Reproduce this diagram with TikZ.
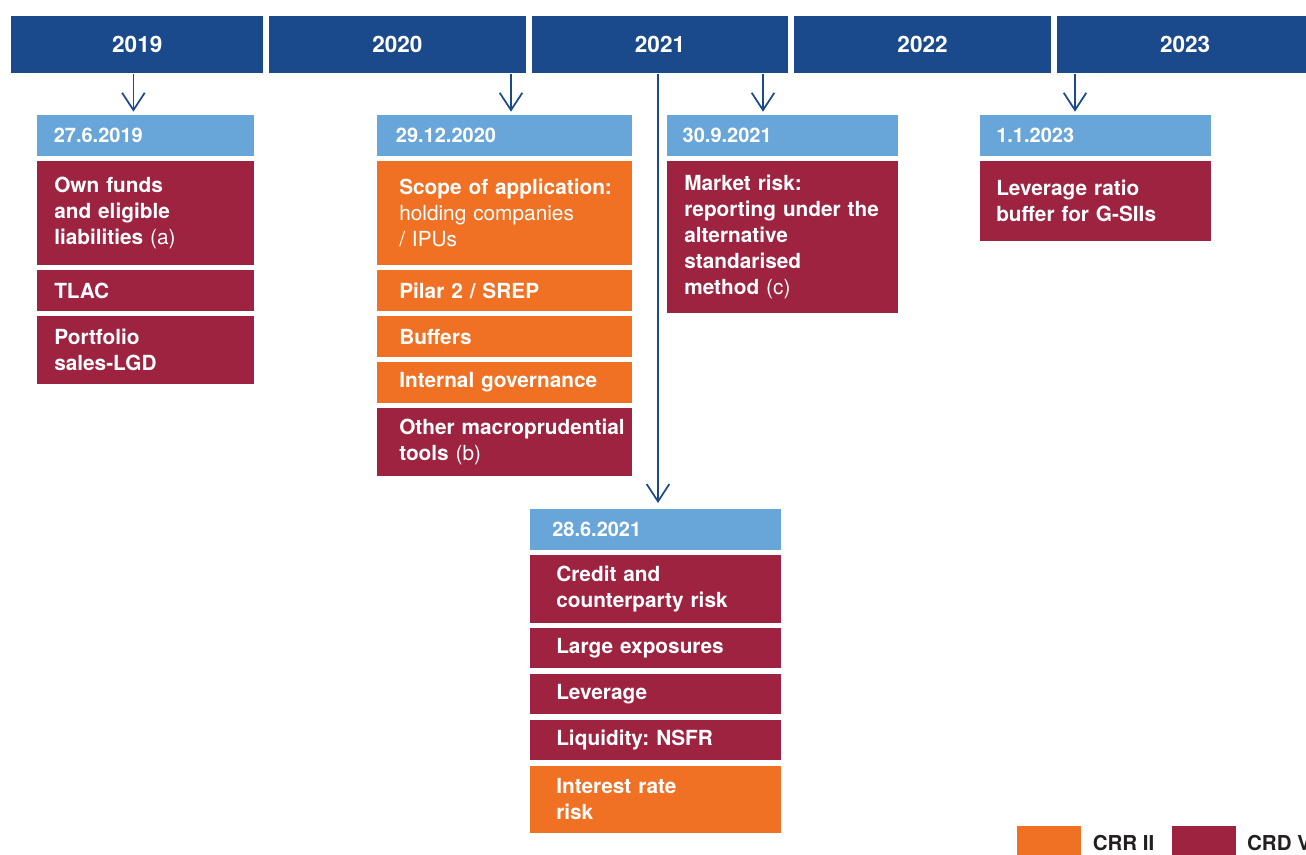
\documentclass[tikz,border=0pt]{standalone}
\usepackage{fontspec}
\setmainfont{TeX Gyre Heros}
\usetikzlibrary{positioning, arrows.meta}

\definecolor{barblue}{HTML}{1B4A8C}
\definecolor{dateblue}{HTML}{68A6D9}
\definecolor{crd}{HTML}{9E2340}
\definecolor{crr}{HTML}{F07124}
\definecolor{legtext}{HTML}{231F20}

\begin{document}
\frenchspacing
\begin{tikzpicture}[
  x=0.75pt, y=-0.75pt,
  year/.style={rectangle, fill=barblue, text=white, inner sep=0pt, minimum height=42.75pt, minimum width=192.5pt, font=\fontsize{16.9}{20}\selectfont\bfseries},
  col/.style 2 args={minimum width=#1, text width=#1-2*#2, inner xsep=#2},
  datebox/.style={rectangle, fill=dateblue, text=white, inner ysep=0pt, minimum height=30.4pt, align=left, font=\fontsize{15}{18}\selectfont\bfseries, anchor=north west},
  item/.style={rectangle, text=white, inner ysep=0pt, minimum height=30.4pt, align=left, font=\fontsize{15.6}{19.4}\selectfont\bfseries},
  arr/.style={-{Straight Barb[length=13pt,width=17pt]}, line width=1.3pt, draw=barblue, shorten >=2.5pt},
  legbox/.style={rectangle, minimum width=48pt, minimum height=25.5pt, inner sep=0pt},
  legtxt/.style={text=legtext, inner sep=0pt, font=\fontsize{15.4}{18}\selectfont\bfseries}
]
\useasboundingbox (0,0) rectangle (1306,854);

% year bars
\node[year, anchor=north west, minimum width=189pt] (y2019) at (11,16) {2019};
\node[year, right=4pt of y2019] (y2020) {2020};
\node[year, right=4pt of y2020] (y2021) {2021};
\node[year, right=4pt of y2021] (y2022) {2022};
\node[year, right=4pt of y2022] (y2023) {2023};

% 27.6.2019
\node[datebox, col={162.75pt}{12.4pt}] (date19) at (37,115) {27.6.2019};
\node[item, col={162.75pt}{12.75pt}, fill=crd, minimum height=78pt, below=3.6pt of date19.south west, anchor=north west] (ownfunds) {Own funds\\and eligible\\liabilities {\mdseries(a)}};
\node[item, col={162.75pt}{12.75pt}, fill=crd, below=3.6pt of ownfunds.south west, anchor=north west] (tlac) {TLAC};
\node[item, col={162.75pt}{12.75pt}, fill=crd, minimum height=50.6pt, below=3.6pt of tlac.south west, anchor=north west] (portfolio) {Portfolio\\sales-LGD};

% 29.12.2020
\node[datebox, col={191.25pt}{14pt}] (date20) at (377,115) {29.12.2020};
\node[item, col={191.25pt}{16.5pt}, fill=crr, minimum height=78pt, below=3.6pt of date20.south west, anchor=north west] (scope) {\mbox{Scope of application:}\\\mdseries holding companies\\/ IPUs};
\node[item, col={191.25pt}{16.5pt}, fill=crr, below=3.6pt of scope.south west, anchor=north west] (pilar) {Pilar 2 / SREP};
\node[item, col={191.25pt}{16.5pt}, fill=crr, below=3.6pt of pilar.south west, anchor=north west] (buffers) {Buffers};
\node[item, col={191.25pt}{16.5pt}, fill=crr, below=3.6pt of buffers.south west, anchor=north west] (governance) {Internal governance};
\node[item, col={191.25pt}{16.5pt}, fill=crd, minimum height=50.6pt, below=3.6pt of governance.south west, anchor=north west] (macro) {\mbox{Other macroprudential}\\tools {\mdseries(b)}};

% 30.9.2021
\node[datebox, col={173.25pt}{11.6pt}] (date21a) at (667,115) {30.9.2021};
\node[item, col={173.25pt}{12.75pt}, fill=crd, minimum height=114.5pt, below=3.2pt of date21a.south west, anchor=north west] (market) {Market risk:\\reporting under the\\alternative\\standarised\\method {\mdseries(c)}};

% 1.1.2023
\node[datebox, col={173.25pt}{12pt}] (date23) at (980,115) {1.1.2023};
\node[item, col={173.25pt}{12pt}, fill=crd, minimum height=60pt, below=3.2pt of date23.south west, anchor=north west] (gsii) {Leverage ratio\\buffer for G-SIIs};

% 28.6.2021
\node[datebox, col={188.25pt}{16.5pt}] (date21b) at (530,509) {28.6.2021};
\node[item, col={188.25pt}{19.5pt}, fill=crd, minimum height=50.6pt, below=3.6pt of date21b.south west, anchor=north west] (credit) {Credit and\\counterparty risk};
\node[item, col={188.25pt}{19.5pt}, fill=crd, below=3.6pt of credit.south west, anchor=north west] (large) {Large exposures};
\node[item, col={188.25pt}{19.5pt}, fill=crd, below=3.6pt of large.south west, anchor=north west] (leverage) {Leverage};
\node[item, col={188.25pt}{19.5pt}, fill=crd, below=3.6pt of leverage.south west, anchor=north west] (nsfr) {Liquidity: NSFR};
\node[item, col={188.25pt}{19.5pt}, fill=crr, minimum height=50.6pt, below=3.6pt of nsfr.south west, anchor=north west] (irr) {Interest rate\\risk};

% arrows
\coordinate (a19) at (133.4,0);
\coordinate (a20) at (511,0);
\coordinate (a21b) at (658,0);
\coordinate (a21a) at (763,0);
\coordinate (a23) at (1075,0);
\draw[arr] (y2019.south -| a19) -- (date19.north -| a19);
\draw[arr] (y2020.south -| a20) -- (date20.north -| a20);
\draw[arr, shorten >=4.5pt] (y2021.south -| a21b) -- (date21b.north -| a21b);
\draw[arr] (y2021.south -| a21a) -- (date21a.north -| a21a);
\draw[arr] (y2023.south -| a23) -- (date23.north -| a23);

% legend
\node[legbox, fill=crr, anchor=north west] (legcrr) at (1017,826) {};
\node[legtxt, right=8.25pt of legcrr] (txtcrr) {CRR II};
\node[legbox, fill=crd, right=12.75pt of txtcrr] (legcrd) {};
\node[legtxt, right=8pt of legcrd] (txtcrd) {CRD V};

\end{tikzpicture}
\end{document}
